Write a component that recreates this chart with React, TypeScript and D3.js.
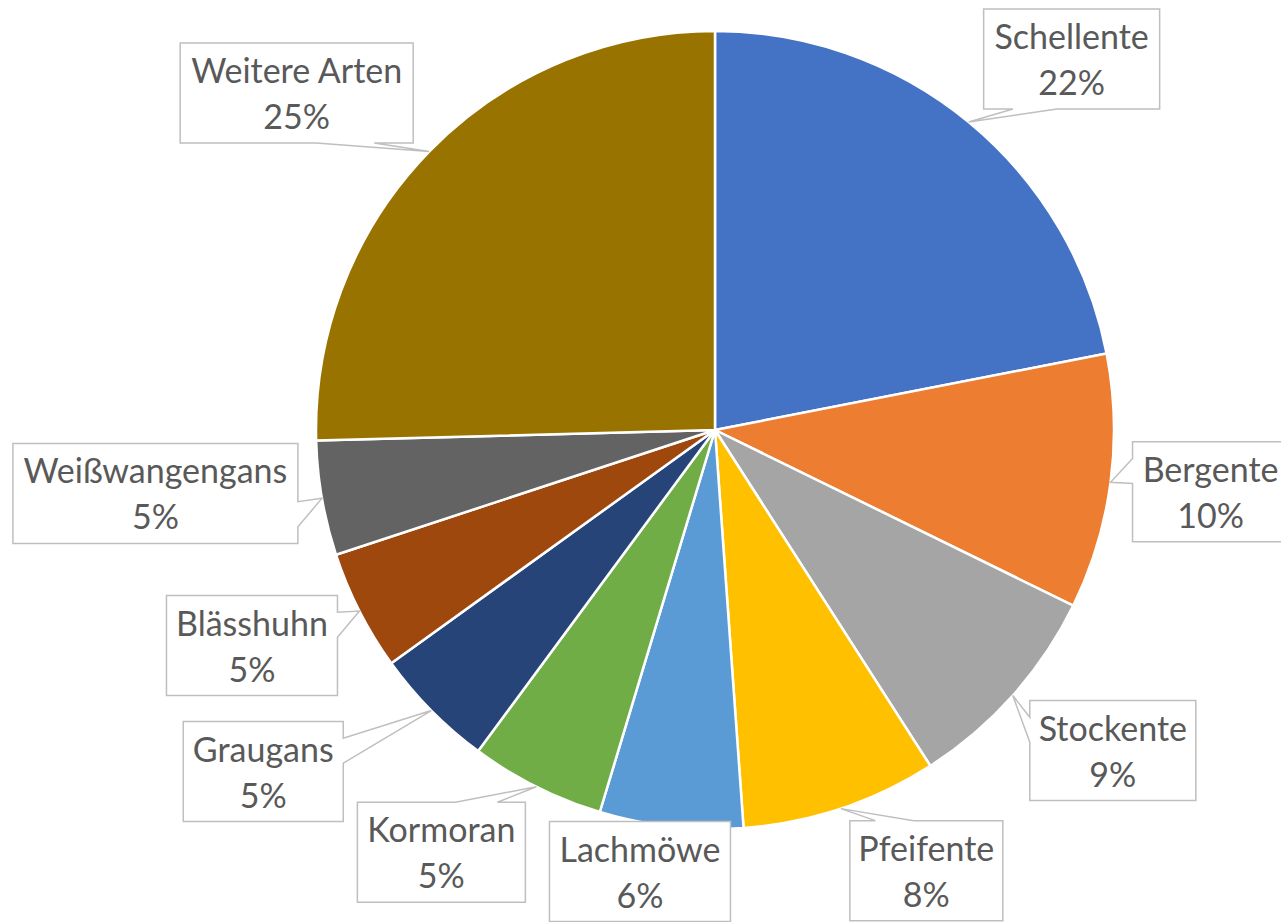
import React, { useEffect, useRef } from 'react';
import * as d3 from 'd3';

const species: string[] = ['Schellente', 'Bergente', 'Stockente', 'Pfeifente', 'Lachmöwe', 'Kormoran', 'Graugans', 'Blässhuhn', 'Weißwangengans', 'Weitere Arten'];
const shares: number[] = [21.92, 10.32, 8.67, 7.93, 5.8, 5.45, 4.95, 4.87, 4.64, 25.41];
const colors: string[] = ['#4472C4', '#ED7D31', '#A5A5A5', '#FFC000', '#5B9BD5', '#70AD47', '#264478', '#9E480E', '#636363', '#997300'];

// label box layout: offset of box centre from the slice's outer mid-point, box width
const labelLayout: { dx: number; dy: number; w: number }[] = [
  { dx: 103, dy: -63, w: 176 },
  { dx: 100, dy: 9.5, w: 156 },
  { dx: 100, dy: 55, w: 166 },
  { dx: 85.5, dy: 62, w: 153 },
  { dx: -31, dy: 45, w: 181 },
  { dx: -95, dy: 65.5, w: 168 },
  { dx: -168, dy: 61, w: 160 },
  { dx: -107.5, dy: 34.5, w: 171 },
  { dx: -166.5, dy: -5, w: 285 },
  { dx: -132.5, dy: -58.5, w: 233 },
];

const W = 1281, H = 922, CX = 715, CY = 430, R = 399, BOX_H = 100;

function callout(l: number, t: number, w: number, h: number, tx: number, ty: number): string {
  const r = l + w, b = t + h;
  const hc = l + w / 2, vc = t + h / 2;
  const dxPos = tx - hc, dyPos = ty - vc;
  if (tx >= l && tx <= r && ty >= t && ty <= b) {
    return `M${l},${t}L${r},${t}L${r},${b}L${l},${b}Z`;
  }
  const dq = (dxPos * h) / w;
  const dz = Math.abs(dyPos) - Math.abs(dq);
  const x1 = l + (w * (dxPos > 0 ? 7 : 2)) / 12;
  const x2 = l + (w * (dxPos > 0 ? 10 : 5)) / 12;
  const y1 = t + (h * (dyPos > 0 ? 7 : 2)) / 12;
  const y2 = t + (h * (dyPos > 0 ? 10 : 5)) / 12;
  if (dz > 0) {
    if (dyPos < 0) return `M${l},${t}L${x1},${t}L${tx},${ty}L${x2},${t}L${r},${t}L${r},${b}L${l},${b}Z`;
    return `M${l},${t}L${r},${t}L${r},${b}L${x2},${b}L${tx},${ty}L${x1},${b}L${l},${b}Z`;
  }
  if (dxPos < 0) return `M${l},${t}L${r},${t}L${r},${b}L${l},${b}L${l},${y2}L${tx},${ty}L${l},${y1}Z`;
  return `M${l},${t}L${r},${t}L${r},${y1}L${tx},${ty}L${r},${y2}L${r},${b}L${l},${b}Z`;
}

export default function App() {
  const ref = useRef<SVGSVGElement>(null);

  useEffect(() => {
    document.body.style.margin = '0';
    const svg = d3.select(ref.current);
    svg.selectAll('*').remove();

    const total = d3.sum(shares);
    const pie = d3.pie<number>().sort(null).value((d) => d);
    const arcs = pie(shares);
    const arc = d3.arc<d3.PieArcDatum<number>>().innerRadius(0).outerRadius(R);

    const g = svg.append('g').attr('transform', `translate(${CX},${CY})`);
    g.selectAll('path')
      .data(arcs)
      .enter()
      .append('path')
      .attr('d', arc)
      .attr('fill', (_, i) => colors[i])
      .attr('stroke', '#ffffff')
      .attr('stroke-width', 2.5)
      .attr('stroke-linejoin', 'round');

    const fmt = d3.format('.0%');
    const labels = svg.append('g');
    arcs.forEach((a, i) => {
      const mid = (a.startAngle + a.endAngle) / 2;
      const tx = CX + R * Math.sin(mid);
      const ty = CY - R * Math.cos(mid);
      const lay = labelLayout[i];
      const cx = tx + lay.dx, cy = ty + lay.dy;
      const l = cx - lay.w / 2, t = cy - BOX_H / 2;
      labels
        .append('path')
        .attr('d', callout(l, t, lay.w, BOX_H, tx, ty))
        .attr('fill', '#ffffff')
        .attr('stroke', '#BFBFBF')
        .attr('stroke-width', 1.5);
      const text = labels
        .append('text')
        .attr('text-anchor', 'middle')
        .attr('font-family', 'Lato, "Open Sans", sans-serif')
        .attr('font-size', 34)
        .attr('fill', '#595959');
      text.append('tspan').attr('x', cx).attr('y', t + 40).text(species[i]);
      text.append('tspan').attr('x', cx).attr('y', t + 86).text(fmt(shares[i] / total));
    });
  }, []);

  return (
    <svg
      ref={ref}
      width={W}
      height={H}
      style={{ position: 'absolute', left: 0, top: 0, background: '#ffffff', display: 'block' }}
    />
  );
}
